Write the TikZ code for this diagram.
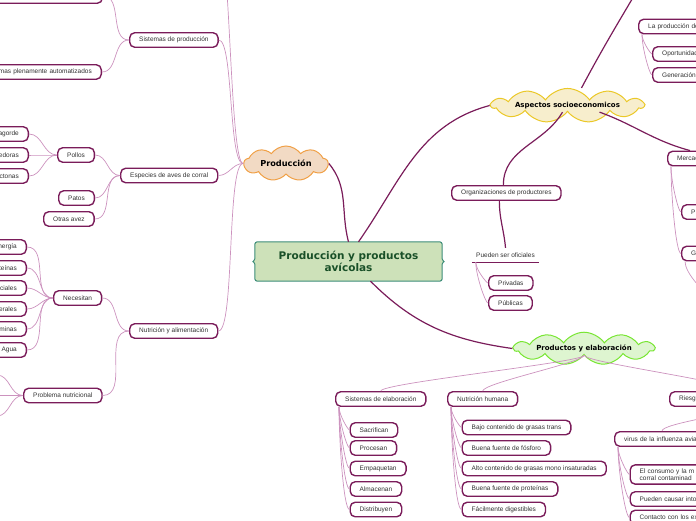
\documentclass[tikz,border=0pt]{standalone}
\usepackage{fontspec}
\newfontfamily\leaffont{Liberation Sans}
\newfontfamily\titlefont{DejaVu Sans}
\usetikzlibrary{shapes.symbols,backgrounds}
\definecolor{nodeline}{RGB}{122,28,90}
\definecolor{linklight}{RGB}{204,146,190}
\definecolor{centrefill}{RGB}{205,225,185}
\definecolor{centreline}{RGB}{60,140,120}
\definecolor{centretext}{RGB}{25,80,40}
\definecolor{prodfill}{RGB}{242,218,196}
\definecolor{prodline}{RGB}{240,160,70}
\definecolor{aspfill}{RGB}{247,238,205}
\definecolor{aspline}{RGB}{235,200,40}
\definecolor{pefill}{RGB}{222,245,208}
\definecolor{peline}{RGB}{120,230,50}
\begin{document}
\begin{tikzpicture}[x=1pt,y=1pt,
  leaf/.style={draw=nodeline,line width=1.4pt,rounded corners=5pt,fill=white,text=black!80,
    font=\leaffont\fontsize{6.5}{7.5}\selectfont,inner xsep=9.5pt,inner ysep=0pt,minimum height=14.5pt,anchor=west},
  leafleft/.style={leaf,anchor=east,text width=120pt,align=right},
  leafright/.style={leaf,anchor=west,text width=120pt,align=left},
  thinlink/.style={draw=linklight,line width=0.7pt},
  thicklink/.style={draw=nodeline,line width=1.2pt},
  treelink/.style={thinlink,out=-90,in=180,out looseness=0.8,in looseness=0.15},
  droplink/.style={thinlink,out=-90,in=90,out distance=7pt,in distance=8pt},
  cloudnode/.style={cloud,cloud puffs=11,cloud puff arc=110,cloud ignores aspect,line width=1pt,inner sep=1pt,
    font=\titlefont\bfseries\fontsize{7}{8}\selectfont}
]
\useasboundingbox (0,0) rectangle (696,-520);
\clip (0,0) rectangle (696,-520);

\node[font=\titlefont\bfseries\fontsize{10.5}{12}\selectfont,text=centretext,align=center,
  minimum width=187pt,minimum height=39pt,inner sep=0pt] (centre) at (348.5,-261.5) {Producción y productos\\avícolas};
\begin{scope}[on background layer]
\filldraw[fill=centrefill,draw=centreline,line width=1pt,rounded corners=2.5pt]
  (centre.north west) -- (centre.north east) -- ([yshift=5pt]centre.east)
  to[out=-90,in=180] ([xshift=4pt]centre.east) to[out=180,in=90] ([yshift=-5pt]centre.east)
  -- (centre.south east) -- (centre.south west) -- ([yshift=-5pt]centre.west)
  to[out=90,in=0] ([xshift=-4pt]centre.west) to[out=0,in=-90] ([yshift=5pt]centre.west) -- cycle;
\end{scope}

\node[cloudnode,fill=prodfill,draw=prodline,minimum width=84pt,minimum height=35pt,cloud puffs=9,
  font=\titlefont\bfseries\fontsize{8.2}{9}\selectfont] (prod) at (286,-163.5) {Producción};
\node[cloudnode,fill=aspfill,draw=aspline,minimum width=152pt,minimum height=33pt] (asp) at (567.5,-105.5) {Aspectos socioeconomicos};
\node[cloudnode,fill=pefill,draw=peline,minimum width=140pt,minimum height=31pt] (pe) at (584,-348.5) {Productos y elaboración};

\node[leafleft] (topleaf) at (103,4) {};
\node[leaf] (sprod) at (129,-40) {Sistemas de producción};
\node[leafleft] (autom) at (102,-72) {mas plenamente automatizados};
\node[leaf] (especies) at (120,-175.5) {Especies de aves de corral};
\node[leaf] (pollos) at (57,-155) {Pollos};
\node[leafleft] (engorde) at (29,-134) {agorde};
\node[leafleft] (ponedoras) at (29,-155) {edoras};
\node[leafleft] (reprod) at (29,-176) {ctonas};
\node[leaf] (patos) at (58,-198) {Patos};
\node[leaf] (otras) at (43,-219) {Otras avez};
\node[leaf] (nutri) at (129,-331) {Nutrición y alimentación};
\node[leaf] (necesitan) at (53,-298) {Necesitan};
\node[leafleft] (energia) at (27,-247) {nergía};
\node[leafleft] (proteinas) at (27,-268) {teínas};
\node[leafleft] (acidos) at (27,-288) {ciales};
\node[leafleft] (minerales) at (27,-309) {erales};
\node[leafleft] (vitaminas) at (27,-329) {minas};
\node[leafleft] (agua) at (27,-350) {Agua};
\node[leaf] (problema) at (23,-395.5) {Problema nutricional};
\coordinate (probA) at (-3,-375);
\coordinate (probB) at (-3,-395.5);
\coordinate (probC) at (-3,-416);
\coordinate (upleft) at (217,70);

\node[leafright] (lapro) at (638,-26.5) {La producción de};
\node[leafright] (oport) at (652,-54) {Oportunidad};
\node[leafright] (gener) at (652,-75) {Generación};
\coordinate (upright) at (655,40);
\node[leaf] (org) at (451,-193) {Organizaciones de productores};
\node[font=\leaffont\fontsize{6.5}{7.5}\selectfont,text=black!80,minimum width=67pt,minimum height=14pt,
  inner sep=0pt] (pso) at (505.5,-255) {Pueden ser oficiales};
\node[leaf] (privadas) at (488,-283) {Privadas};
\node[leaf] (publicas) at (488,-303) {Públicas};
\node[leafright] (merc) at (667,-158.5) {Mercad};
\node[leafright] (mp) at (681,-212) {P};
\node[leafright] (mg) at (681,-253.5) {G};
\coordinate (gchild) at (706,-292);

\node[leaf] (sel) at (335,-399) {Sistemas de elaboración};
\node[leaf] (sacr) at (349.5,-430) {Sacrifican};
\node[leaf] (proc) at (349.5,-448) {Procesan};
\node[leaf] (empa) at (349.5,-468.5) {Empaquetan};
\node[leaf] (alma) at (349.5,-489) {Almacenan};
\node[leaf] (dist) at (349.5,-509.5) {Distribuyen};
\node[leaf] (nh) at (447,-399) {Nutrición humana};
\node[leaf] (bajo) at (461.5,-427.5) {Bajo contenido de grasas trans};
\node[leaf] (fosf) at (461.5,-448) {Buena fuente de fósforo};
\node[leaf] (alto) at (461.5,-468.5) {Alto contenido de grasas mono insaturadas};
\node[leaf] (prot) at (461.5,-489) {Buena fuente de proteínas};
\node[leaf] (facil) at (461.5,-509.5) {Fácilmente digestibles};
\node[leafright] (riesgo) at (669,-399) {Riesg};
\node[leafright] (virus) at (614,-439) {virus de la influenza avia};
\node[leafright,inner ysep=3.5pt] (consumo) at (629.5,-474.5) {El consumo y la m\\corral contaminad};
\node[leafright] (causar) at (629.5,-499) {Pueden causar into};
\node[leafright] (contacto) at (629.5,-517.5) {Contacto con los ex};

\draw[thicklink] (centre.north) to[out=105,in=-50] (prod.east);
\draw[thicklink] ([xshift=10pt]centre.north) to[out=55,in=195] (asp.west);
\draw[thicklink] ([xshift=22pt]centre.south) to[out=-45,in=172] (pe.west);
\draw[thicklink] ([xshift=14pt]asp.north) to[out=62,in=240] (upright);
\draw[thicklink] ([xshift=-5pt]asp.south) to[out=-120,in=90] ([xshift=-3pt]org.north);
\draw[thicklink] ([xshift=32pt]asp.south) to[out=-20,in=165] ([xshift=23pt]merc.north west);
\draw[thicklink] ([xshift=-7pt]org.south) to[out=-90,in=95] (pso.north);
\draw[thicklink] (pso.south west) -- (pso.south east);

\draw[thinlink] (prod.west) to[out=180,in=0,looseness=0.15] (upleft);
\draw[thinlink] (prod.west) to[out=180,in=0,looseness=0.3] (sprod.east);
\draw[thinlink] (prod.west) to[out=180,in=0] (especies.east);
\draw[thinlink] (prod.west) to[out=180,in=0,looseness=0.25] (nutri.east);
\draw[thinlink] (sprod.west) to[out=180,in=0] (topleaf.east);
\draw[thinlink] (sprod.west) to[out=180,in=0] (autom.east);
\draw[thinlink] (especies.west) to[out=180,in=0] (pollos.east);
\draw[thinlink] (especies.west) to[out=180,in=0] (patos.east);
\draw[thinlink] (especies.west) to[out=180,in=0] (otras.east);
\draw[thinlink] (pollos.west) to[out=180,in=0] (engorde.east);
\draw[thinlink] (pollos.west) to[out=180,in=0] (ponedoras.east);
\draw[thinlink] (pollos.west) to[out=180,in=0] (reprod.east);
\draw[thinlink] (nutri.west) to[out=180,in=0] (necesitan.east);
\draw[thinlink] (nutri.west) to[out=180,in=0] (problema.east);
\draw[thinlink] (necesitan.west) to[out=180,in=0] (energia.east);
\draw[thinlink] (necesitan.west) to[out=180,in=0] (proteinas.east);
\draw[thinlink] (necesitan.west) to[out=180,in=0] (acidos.east);
\draw[thinlink] (necesitan.west) to[out=180,in=0] (minerales.east);
\draw[thinlink] (necesitan.west) to[out=180,in=0] (vitaminas.east);
\draw[thinlink] (necesitan.west) to[out=180,in=0] (agua.east);
\draw[thinlink] (problema.west) to[out=180,in=0] (probA);
\draw[thinlink] (problema.west) to[out=180,in=0] (probB);
\draw[thinlink] (problema.west) to[out=180,in=0] (probC);

\draw[treelink] ([xshift=4pt]lapro.south west) to (oport.west);
\draw[treelink] ([xshift=4pt]lapro.south west) to (gener.west);
\draw[treelink] ([xshift=4pt]pso.south west) to (privadas.west);
\draw[treelink] ([xshift=4pt]pso.south west) to (publicas.west);
\draw[treelink] ([xshift=4pt]merc.south west) to (mp.west);
\draw[treelink] ([xshift=4pt]merc.south west) to (mg.west);
\draw[treelink] ([xshift=4pt]mg.south west) to (gchild);

\draw[droplink] (pe.south) to (sel.north);
\draw[droplink] (pe.south) to (nh.north);
\draw[droplink] (pe.south) to (riesgo.north);
\draw[droplink] (riesgo.south) to ([xshift=48pt]virus.north west);
\draw[treelink] ([xshift=4pt]sel.south west) to (sacr.west);
\draw[treelink] ([xshift=4pt]sel.south west) to (proc.west);
\draw[treelink] ([xshift=4pt]sel.south west) to (empa.west);
\draw[treelink] ([xshift=4pt]sel.south west) to (alma.west);
\draw[treelink] ([xshift=4pt]sel.south west) to (dist.west);
\draw[treelink] ([xshift=4pt]nh.south west) to (bajo.west);
\draw[treelink] ([xshift=4pt]nh.south west) to (fosf.west);
\draw[treelink] ([xshift=4pt]nh.south west) to (alto.west);
\draw[treelink] ([xshift=4pt]nh.south west) to (prot.west);
\draw[treelink] ([xshift=4pt]nh.south west) to (facil.west);
\draw[treelink] ([xshift=4pt]virus.south west) to (consumo.west);
\draw[treelink] ([xshift=4pt]virus.south west) to (causar.west);
\draw[treelink] ([xshift=4pt]virus.south west) to (contacto.west);
\end{tikzpicture}
\end{document}
